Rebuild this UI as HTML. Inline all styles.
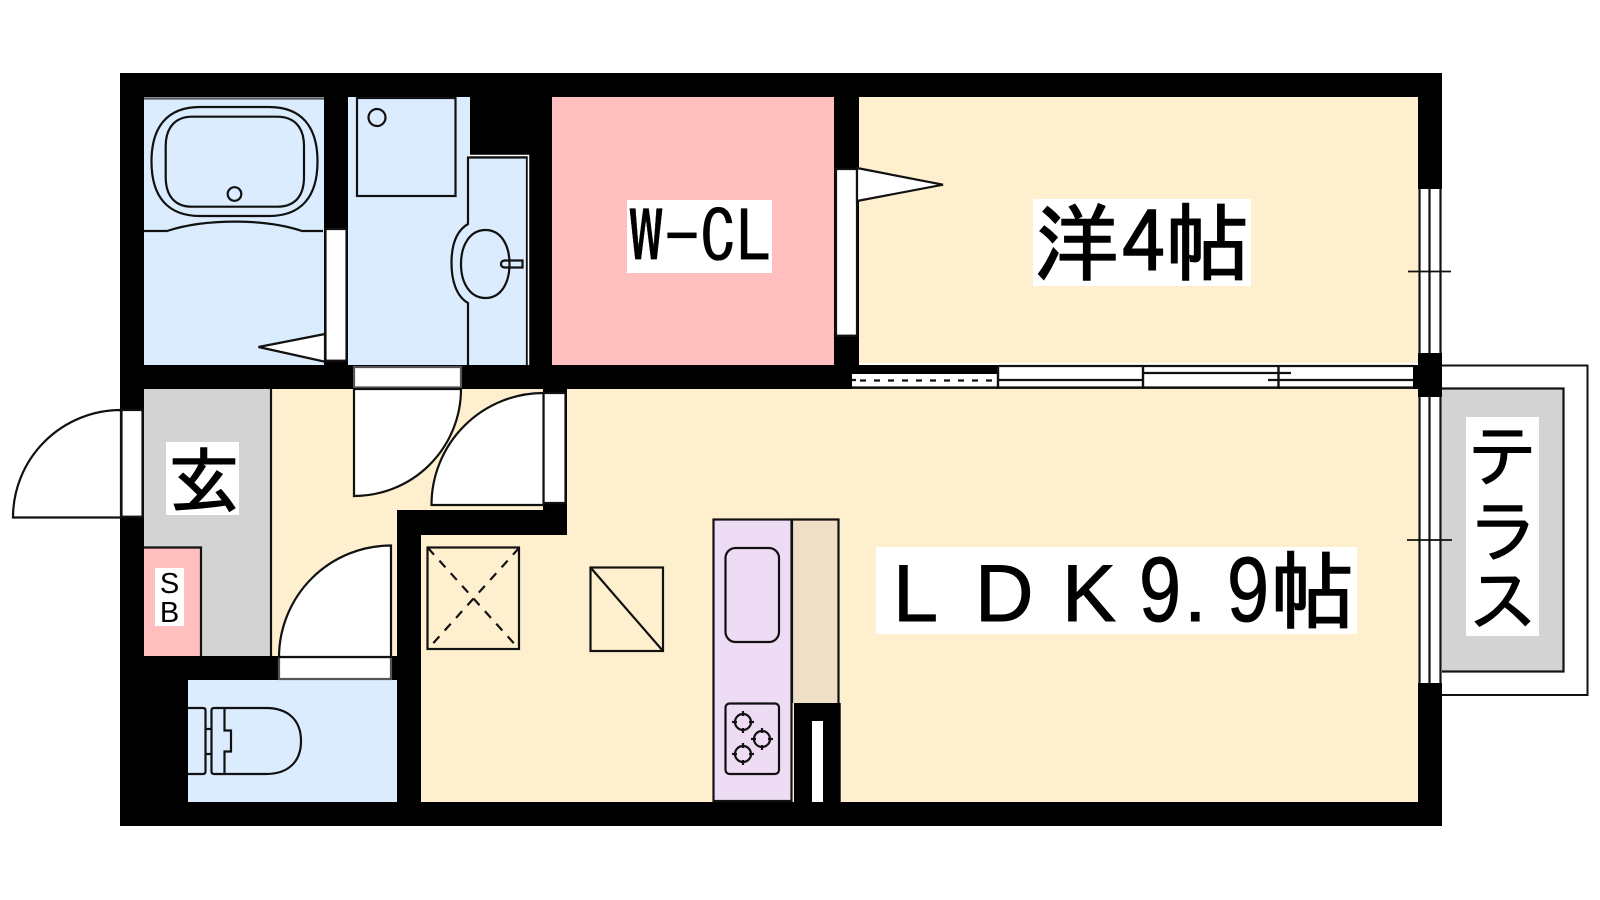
<!DOCTYPE html>
<html><head><meta charset="utf-8"><style>html,body{margin:0;padding:0;background:#fff}svg{display:block}text{fill:#000}.j{font-family:"IPAGothic","Liberation Sans","Noto Sans CJK JP",sans-serif}.l{font-family:"Liberation Sans","IPAGothic",sans-serif}</style></head><body>
<svg width="1600" height="900" viewBox="0 0 1600 900" xmlns="http://www.w3.org/2000/svg">
<rect width="1600" height="900" fill="#fff"/>
<!-- terrace -->
<rect x="1430" y="365.5" width="157.500" height="329.500" fill="#fff" stroke="#111" stroke-width="2"/>
<rect x="1430" y="388.500" width="133.500" height="283" fill="#d3d3d3" stroke="#111" stroke-width="2.200"/>
<!-- building -->
<rect x="120" y="73" width="1322" height="753" fill="#000"/>
<!-- rooms -->
<g stroke="none">
<rect x="144" y="97" width="180" height="268" fill="#dbecff"/>
<rect x="348" y="97" width="122" height="268" fill="#dbecff"/>
<rect x="467" y="157" width="60.500" height="208" fill="#dbecff"/>
<rect x="552" y="97" width="282" height="268" fill="#ffbfbf"/>
<rect x="859" y="97" width="559" height="266" fill="#fef0cf"/>
<rect x="144" y="389" width="127" height="267" fill="#d3d3d3"/>
<rect x="144" y="547" width="57" height="109" fill="#ffbfbf"/>
<rect x="271" y="389" width="272" height="121" fill="#fef0cf"/>
<rect x="271" y="510" width="126" height="146" fill="#fef0cf"/>
<rect x="567" y="389" width="851" height="413" fill="#fef0cf"/>
<rect x="421" y="535" width="150" height="267" fill="#fef0cf"/>
<rect x="188" y="680" width="209" height="122" fill="#dbecff"/>
</g>
<g fill="none" stroke="#111" stroke-width="2.200">
<line x1="271" y1="389" x2="271" y2="656"/>
<path d="M144 547.500H201V656"/>
<!-- bath -->
<line x1="144" y1="98.500" x2="324" y2="98.500" stroke="#555"/>
<path d="M200 107H269C301 107 317.500 126 317.500 161.500C317.500 197 301 216 269 216H200C168 216 151.500 197 151.500 161.500C151.500 126 168 107 200 107Z"/>
<path d="M192 116.700H277C295 116.700 304 128 304 146V177C304 196 295 206.700 277 206.700H192C175 206.700 165.700 196 165.700 177V146C165.700 128 175 116.700 192 116.700Z"/>
<circle cx="234.500" cy="194" r="6.800"/>
<path d="M144 231H167C205 218.500 265 218.500 302 231H323"/>
<!-- washroom -->
<rect x="357" y="98" width="98.500" height="98"/>
<circle cx="377" cy="117.500" r="8.500"/>
<path d="M468 365V303C456 296 451.500 280 451.500 263C451.500 246 456 231 468 224V157.500H527V365" fill="#dbecff"/>
<path d="M468 155.500H528.500V365" stroke="#fff" stroke-width="1.500"/>
<path d="M485.500 230C501 230 509.500 245 509.500 264C509.500 283 501 298 485.500 298C470 298 461 283 461 264C461 245 470 230 485.500 230Z"/>
<path d="M522.500 260.500H504.500Q501 261 501 264Q501 267 504.500 267.500H522.500Z"/>
<!-- toilet -->
<path d="M188 708H203Q205.500 708 205.500 710.500V771.500Q205.500 774 203 774H188"/>
<path d="M205.500 729H211.500M205.500 754H211.500"/>
<path d="M224.500 708H266C288 708 301 720 301 741C301 762 288 774 266 774H224.500H214Q211.500 774 211.500 771.500V710.500Q211.500 708 214 708H224.500V730.500H231V751.500H224.500V774"/>
<!-- X box -->
<rect x="427.500" y="547.500" width="91.500" height="101.500"/>
<g stroke-dasharray="9 8"><line x1="428" y1="548" x2="519" y2="649"/><line x1="519" y1="548" x2="428" y2="649"/></g>
<rect x="590.500" y="567.500" width="72.500" height="83.500"/>
<line x1="590.500" y1="567.500" x2="663" y2="651"/>
<!-- kitchen -->
<rect x="713.500" y="519.500" width="78" height="281.500" fill="#eedcf5"/>
<path d="M792 703V519.500H838.500V703" fill="#efdfc6"/>
<rect x="725.500" y="548" width="53.500" height="94" rx="10"/>
<rect x="725.500" y="703.500" width="53.500" height="70.500" rx="4"/>
<circle cx="743" cy="722" r="8"/><circle cx="762" cy="739" r="8"/><circle cx="743" cy="754" r="8"/>
<path d="M743 711V716M743 728V733M732 722H737M749 722H754M762 728V733M762 745V750M751 739H756M768 739H773M743 743V748M743 760V765M732 754H737M749 754H754"/>
</g>
<rect x="794" y="703" width="46.700" height="99" fill="#000"/>
<rect x="812" y="721" width="11" height="81" fill="#fff"/>
<!-- right wall windows -->
<g stroke="#111" stroke-width="2.200">
<rect x="1418" y="189" width="24" height="164" fill="#fff" stroke="none"/>
<rect x="1418" y="397" width="24" height="286" fill="#fff" stroke="none"/>
<path d="M1419.500 189V353M1429.500 189V353M1440.500 189V353M1419.500 397V683M1429.500 397V683M1440.500 397V683" fill="none"/>
<line x1="1408" y1="271.500" x2="1451" y2="271.500" stroke-width="1.800"/>
<line x1="1407" y1="540" x2="1452" y2="540" stroke-width="1.800"/>
</g>
<!-- sliding door -->
<rect x="852" y="363" width="566" height="26" fill="#fff"/>
<rect x="852" y="365" width="146" height="9" fill="#000"/>
<rect x="834" y="336" width="25" height="29" fill="#000"/>
<rect x="852" y="387.500" width="566" height="1.500" fill="#333"/>
<g stroke="#111" stroke-width="2.200" fill="none">
<path d="M852 387.500H1414M998 366H1414"/>
<path d="M852 380H856M998 380H1143M1143 373H1291M1268 380H1414" />
<line x1="860" y1="380.500" x2="998" y2="380.500" stroke-dasharray="6 8"/>
<path d="M998 365V389M1143 365V389M1278.500 365V389" stroke-width="2.400"/>
</g>
<rect x="1413" y="365" width="29" height="24" fill="#000"/>
<!-- doors and frames -->
<g stroke="#111" stroke-width="2.200" fill="#fff">
<!-- bath door -->
<rect x="325.500" y="229" width="21" height="131.700"/>
<path d="M325 334L258.500 347L325 361.700Z"/>
<!-- WCL door -->
<rect x="836" y="169" width="21" height="166.700"/>
<path d="M857 168L943 184.700L857 201Z"/>
<!-- washroom door -->
<path d="M354 367H461V387.500H354Z" stroke="#555"/>
<path d="M354 389V496A107 107 0 0 0 461 389Z"/>
<!-- door 2 -->
<rect x="543.500" y="393" width="22" height="110"/>
<path d="M543.500 393A112 112 0 0 0 431.500 505H543.500Z"/>
<!-- toilet door -->
<rect x="279" y="657" width="112" height="22" stroke="#555"/>
<path d="M391 545.500A112 112 0 0 0 279 657H391Z"/>
<!-- entry door -->
<rect x="121.500" y="410" width="21" height="106.700"/>
<path d="M121 410A108 107.500 0 0 0 13 517.500H121Z"/>
</g>
<!-- labels -->
<g fill="#fff">
<rect x="627" y="200" width="145" height="73"/>
<rect x="1033" y="199" width="218" height="87"/>
<rect x="876" y="547" width="481" height="87"/>
<rect x="166" y="442" width="73" height="73"/>
<rect x="155" y="568" width="29" height="58"/>
<rect x="1466" y="417" width="73" height="219"/>
</g>
<text class="j" x="628" y="263" font-size="72" stroke="#000" stroke-width="0.300">W-CL</text>
<text class="j" x="1034" y="274" font-size="85" stroke="#000" stroke-width="1.500">洋</text>
<text class="j" x="1122" y="274" font-size="85" stroke="#000" stroke-width="1.500">4</text>
<text class="j" x="1165" y="274" font-size="85" stroke="#000" stroke-width="1.500">帖</text>
<g stroke="#000" stroke-width="1">
<text class="l" x="893" y="621" font-size="81">L</text>
<text class="l" x="975" y="621" font-size="81">D</text>
<text class="l" x="1062" y="621" font-size="81">K</text>
<text class="l" x="1139" y="621" font-size="92" textLength="42" lengthAdjust="spacingAndGlyphs">9</text>
<text class="l" x="1184" y="621" font-size="81">.</text>
<text class="l" x="1227" y="621" font-size="92" textLength="42" lengthAdjust="spacingAndGlyphs">9</text>
</g>
<text class="j" x="1270" y="622" font-size="85" stroke="#000" stroke-width="1.500">帖</text>
<text class="j" x="168" y="507" font-size="72" stroke="#000" stroke-width="1.500">玄</text>
<text class="l" x="169.500" y="593" font-size="29" text-anchor="middle">S</text>
<text class="l" x="169.500" y="622" font-size="29" text-anchor="middle">B</text>
<text class="j" x="1468" y="481" font-size="70" stroke="#000" stroke-width="1">テ</text>
<text class="j" x="1468" y="556" font-size="70" stroke="#000" stroke-width="1">ラ</text>
<text class="j" x="1468" y="626" font-size="70" stroke="#000" stroke-width="1">ス</text>
</svg>
</body></html>
